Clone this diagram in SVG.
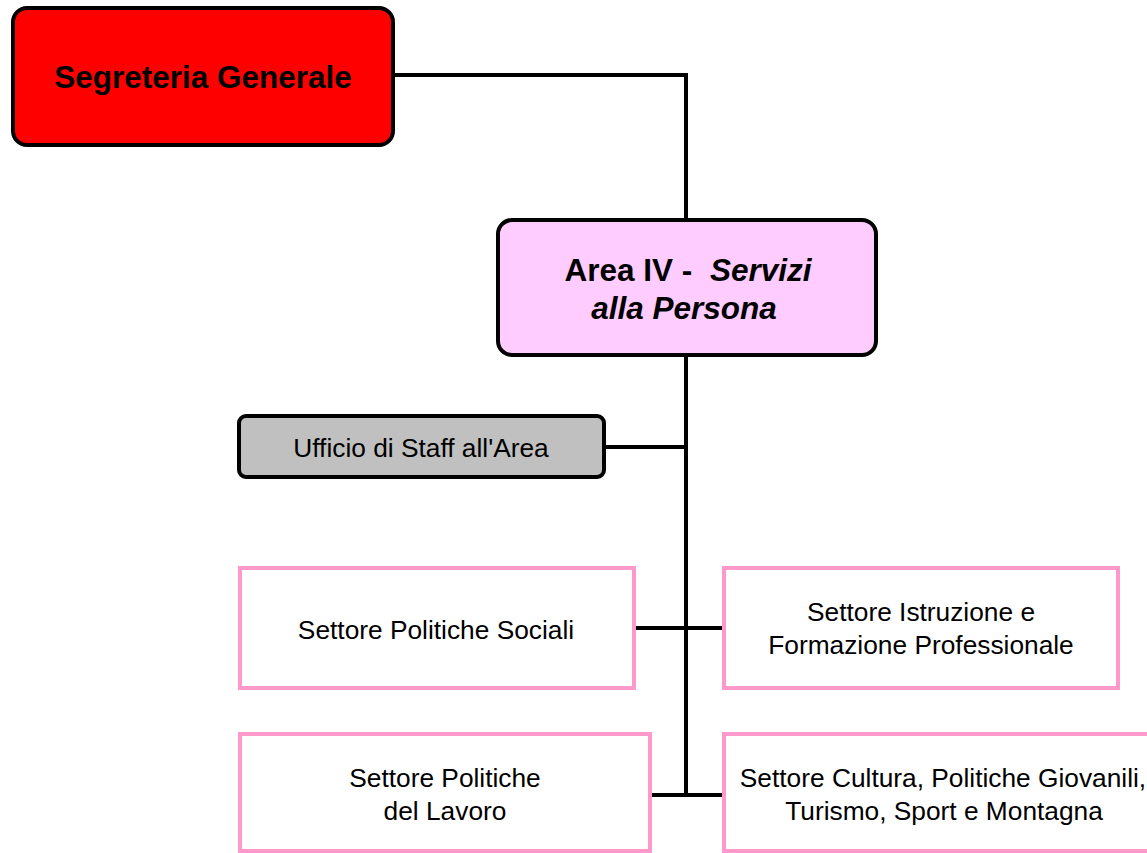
<svg xmlns="http://www.w3.org/2000/svg" width="1147" height="853" viewBox="0 0 1147 853">
<style>
.t{font-family:"Liberation Sans",Arial,sans-serif;fill:#000;text-anchor:middle}
.b{font-weight:bold;font-size:31.5px}
.n{font-size:26.3px}
.pink{fill:#fff;stroke:#FF99CC;stroke-width:4}
.conn{stroke:#000;stroke-width:4;fill:none}
</style>
<rect width="1147" height="853" fill="#fff"/>
<g id="connectors">
<path class="conn" d="M393 75 H686 V220"/>
<path class="conn" d="M686 355 V795"/>
<path class="conn" d="M604 447 H686"/>
<path class="conn" d="M634 628 H724"/>
<path class="conn" d="M650 795 H724"/>
</g>
<g id="segreteria">
<rect x="13" y="8" width="380" height="137" rx="14" fill="#FF0000" stroke="#000" stroke-width="4"/>
<text class="t b" x="203" y="88">Segreteria Generale</text>
</g>
<g id="area4">
<rect x="498" y="220" width="378" height="135" rx="14" fill="#FFCCFF" stroke="#000" stroke-width="4"/>
<text class="t b" x="688" y="281" xml:space="preserve">Area IV -  <tspan font-style="italic">Servizi</tspan></text>
<text class="t b" x="684" y="319" font-style="italic">alla Persona</text>
</g>
<g id="ufficio">
<rect x="239" y="416" width="365" height="61" rx="7" fill="#C0C0C0" stroke="#000" stroke-width="4"/>
<text class="t n" x="421" y="457">Ufficio di Staff all'Area</text>
</g>
<g id="sociali">
<rect class="pink" x="240" y="568" width="394" height="120"/>
<text class="t n" x="436" y="639">Settore Politiche Sociali</text>
</g>
<g id="istruzione">
<rect class="pink" x="724" y="568" width="394" height="120"/>
<text class="t n" x="921" y="621">Settore Istruzione e</text>
<text class="t n" x="921" y="654">Formazione Professionale</text>
</g>
<g id="lavoro">
<rect class="pink" x="240" y="734" width="410" height="117"/>
<text class="t n" x="445" y="787">Settore Politiche</text>
<text class="t n" x="445" y="820">del Lavoro</text>
</g>
<g id="cultura">
<rect class="pink" x="724" y="734" width="440" height="117"/>
<text class="t n" x="943" y="787">Settore Cultura, Politiche Giovanili,</text>
<text class="t n" x="944" y="820">Turismo, Sport e Montagna</text>
</g>
</svg>
